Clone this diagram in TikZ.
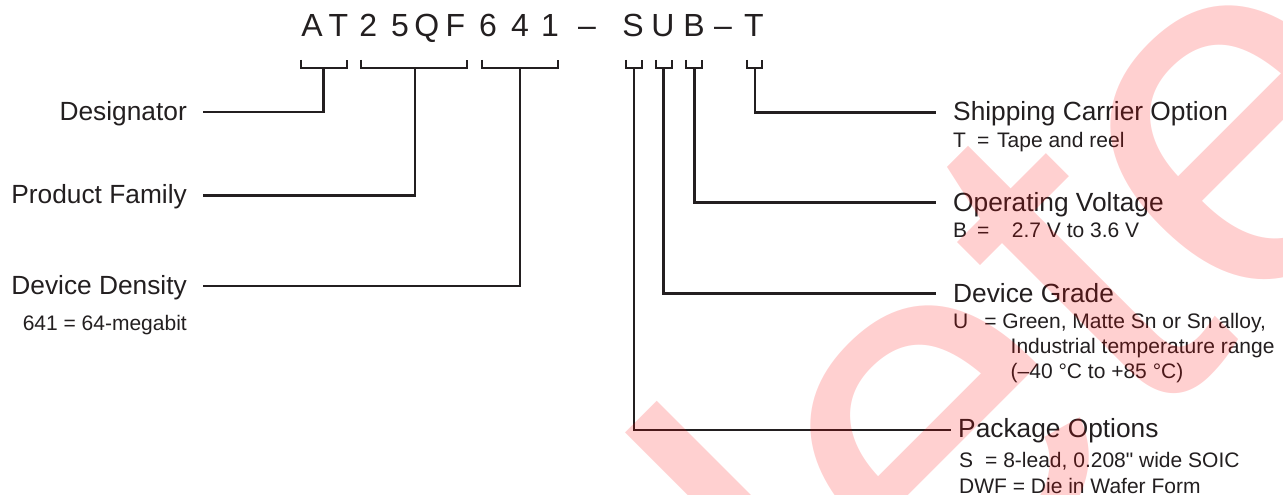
\documentclass[tikz,border=0pt]{standalone}
\usepackage{fontspec}
\newfontfamily\arial{Liberation Sans}
\definecolor{ink}{HTML}{231F20}
\begin{document}
\begin{tikzpicture}[x=1pt,y=-1pt,
  big/.style={font=\arial\fontsize{26.3}{30}\selectfont, inner sep=0pt, text=ink},
  small/.style={font=\arial\fontsize{21}{24}\selectfont, inner sep=0pt, text=ink},
  codechar/.style={font=\arial\fontsize{32}{36}\selectfont, inner sep=0pt, anchor=base, text=ink},
  wire/.style={draw=ink, line width=2.6pt, line join=miter},
  brk/.style={draw=ink, line width=2.2pt, line join=miter}]
\useasboundingbox[fill=white] (0,0) rectangle (1283,495);

% part number characters
\node[codechar] (cA)  at (312,36.7) {A};
\node[codechar] (cT)  at (338.3,36.7) {T};
\node[codechar] (c2)  at (368.3,36.7) {2};
\node[codechar] (c5)  at (400,36.7) {5};
\node[codechar] (cQ)  at (426.7,36.7) {Q};
\node[codechar] (cF)  at (455.5,36.7) {F};
\node[codechar] (c6)  at (488,36.7) {6};
\node[codechar] (c4)  at (520,36.7) {4};
\node[codechar] (c1)  at (550,36.7) {1};
\node[codechar] (cd1) at (587,36.7) {–};
\node[codechar] (cS)  at (633,36.7) {S};
\node[codechar] (cU)  at (663,36.7) {U};
\node[codechar] (cB)  at (694,36.7) {B};
\node[codechar] (cd2) at (723,36.7) {–};
\node[codechar] (cT2) at (754,36.7) {T};

% brackets
\draw[brk] (300.7,60) -- (300.7,68) -- (346.7,68) -- (346.7,60);
\draw[brk] (361,60) -- (361,68) -- (466.7,68) -- (466.7,60);
\draw[brk] (481.7,60) -- (481.7,68) -- (557.7,68) -- (557.7,60);
\draw[brk] (626,60) -- (626,68) -- (641.7,68) -- (641.7,60);
\draw[brk] (656,60) -- (656,68) -- (671.7,68) -- (671.7,60);
\draw[brk] (686,60) -- (686,68) -- (701.7,68) -- (701.7,60);
\draw[brk] (746.7,60) -- (746.7,68) -- (761.7,68) -- (761.7,60);

\coordinate (sDes) at (323.3,68);
\coordinate (sFam) at (415,68);
\coordinate (sDen) at (520,68);
\coordinate (sPkg) at (634,68);
\coordinate (sGrd) at (663.5,68);
\coordinate (sVol) at (694.3,68);
\coordinate (sShp) at (755,68);

% left labels
\node[big, anchor=base east] (lDes) at (187,120) {Designator};
\node[big, anchor=base east] (lFam) at (187,203.5) {Product Family};
\node[big, anchor=base east] (lDen) at (187,294) {Device Density};
\node[small, anchor=base east] (lDenV) at (187,330) {641 = 64-megabit};

\coordinate (eDes) at (203,112);
\coordinate (eFam) at (203,195.5);
\coordinate (eDen) at (203,286);

% right labels
\node[big, anchor=base west] (rShp) at (953,120) {Shipping Carrier Option};
\node[small, anchor=base west] (rShpV) at (953,147) {T\hspace{11.2pt}=\hspace{7.7pt}Tape and reel};
\node[big, anchor=base west] (rVol) at (953,211.5) {Operating Voltage};
\node[small, anchor=base west] (rVolV) at (953,237) {B\hspace{10pt}=\hspace{22.5pt}2.7 V to 3.6 V};
\node[big, anchor=base west] (rGrd) at (953,302) {Device Grade};
\node[small, anchor=base west] (rGrdV1) at (953,328) {U\hspace{16pt}= Green, Matte Sn or Sn alloy,};
\node[small, anchor=base west] (rGrdV2) at (1010.5,353) {Industrial temperature range};
\node[small, anchor=base west] (rGrdV3) at (1010.5,378) {(–40 °C to +85 °C)};
\node[big, anchor=base west] (rPkg) at (958,437) {Package Options};
\node[small, anchor=base west] (rPkgV1) at (959,467) {S\hspace{12pt}= 8-lead, 0.208" wide SOIC};
\node[small, anchor=base west] (rPkgV2) at (959,493) {DWF = Die in Wafer Form};

\coordinate (eShp) at (936,112.3);
\coordinate (eVol) at (936,202.7);
\coordinate (eGrd) at (936,293.3);
\coordinate (ePkg) at (951,430);

% connectors
\draw[wire] (sDes) |- (eDes);
\draw[wire] (sFam) |- (eFam);
\draw[wire] (sDen) |- (eDen);
\draw[wire] (sShp) |- (eShp);
\draw[wire] (sVol) |- (eVol);
\draw[wire] (sGrd) |- (eGrd);
\draw[wire] (sPkg) |- (ePkg);

% watermark
\begin{scope}
\clip (0,0) rectangle (1283,495);
\node[rotate=45, anchor=base west, inner sep=0pt,
      font=\arial\fontsize{510}{510}\selectfont,
      text=red, text opacity=0.185] (wm) at (862,719.1) {lete};
\end{scope}
\end{tikzpicture}
\end{document}
